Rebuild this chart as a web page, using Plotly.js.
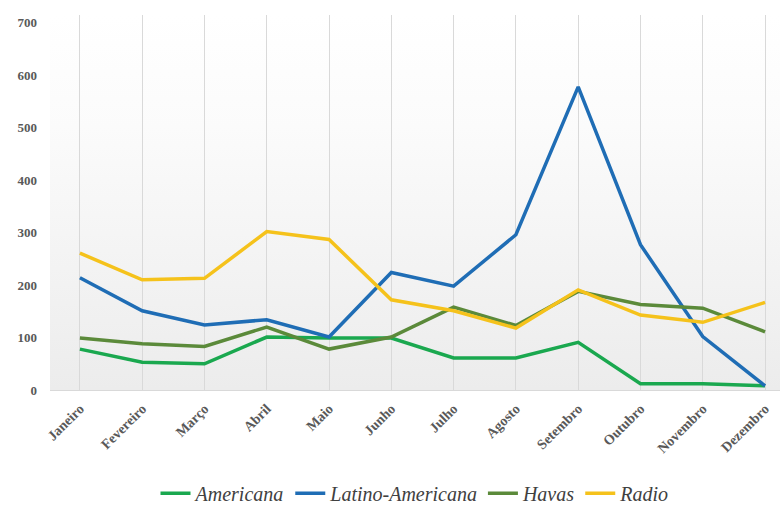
<!DOCTYPE html>
<html>
<head>
<meta charset="utf-8">
<script src="https://cdn.plot.ly/plotly-3.0.1.min.js"></script>
<style>
  html, body { margin: 0; padding: 0; background: #ffffff; }
  #wrap { position: relative; width: 784px; height: 505px; }
  #bg { position: absolute; left: 50px; top: 15px; width: 730px; height: 375px;
        background: linear-gradient(to bottom, #ffffff 0%, #fbfbfb 30%, #ececec 100%); }
  #chart { position: relative; width: 784px; height: 505px; }
  #chart text { font-family: "Liberation Serif" !important; }
</style>
</head>
<body>
<div id="wrap">
  <div id="bg"></div>
  <div id="chart"></div>
</div>
<script>
const months = ["Janeiro","Fevereiro","Março","Abril","Maio","Junho","Julho","Agosto","Setembro","Outubro","Novembro","Dezembro"];
const americana = [78, 53, 50, 101, 99, 99, 61, 61, 91, 12, 12, 8];
const latinoAmericana = [214, 151, 124, 134, 101, 224, 198, 296, 578, 277, 102, 8];
const havas = [99, 88, 83, 120, 78, 101, 158, 123, 188, 163, 156, 111];
const radio = [261, 210, 213, 302, 287, 172, 151, 118, 191, 143, 129, 167];

const seriesNames = ["Americana", "Latino-Americana", "Havas", "Radio"];
const seriesColors = ["#1aa84f", "#1f6db5", "#5b8a3a", "#f5c21b"];
const seriesValues = [americana, latinoAmericana, havas, radio];

const traces = seriesNames.map((n, i) => ({
  type: "scatter",
  mode: "lines",
  name: n,
  x: months,
  y: seriesValues[i],
  line: { color: seriesColors[i], width: 3.5 }
}));

const layout = {
  width: 784,
  height: 505,
  margin: { l: 50, r: 4, t: 15, b: 115, autoexpand: false },
  paper_bgcolor: "rgba(0,0,0,0)",
  plot_bgcolor: "rgba(0,0,0,0)",
  font: { family: "Liberation Serif" },
  showlegend: true,
  legend: {
    orientation: "h",
    x: 0.5, xanchor: "center",
    y: -0.275, yanchor: "middle",
    font: { family: "Liberation Serif", size: 20, color: "#404040", style: "italic" },
    bgcolor: "rgba(0,0,0,0)"
  },
  xaxis: {
    type: "category",
    automargin: false,
    range: [-0.48, 11.24],
    showgrid: true,
    gridcolor: "#d9d9d9",
    gridwidth: 1,
    showline: true,
    linecolor: "#d9d9d9",
    linewidth: 1,
    zeroline: false,
    ticks: "",
    tickangle: -45,
    ticklabelstandoff: 4,
    tickfont: { family: "Liberation Serif", size: 14, color: "#595959", weight: "bold" }
  },
  yaxis: {
    automargin: false,
    range: [0, 715],
    tickvals: [0, 100, 200, 300, 400, 500, 600, 700],
    showgrid: false,
    zeroline: false,
    showline: false,
    ticks: "",
    ticklabelstandoff: 12,
    tickfont: { family: "Liberation Serif", size: 13, color: "#595959", weight: "bold" }
  }
};

Plotly.newPlot("chart", traces, layout, { staticPlot: true });
</script>
</body>
</html>
